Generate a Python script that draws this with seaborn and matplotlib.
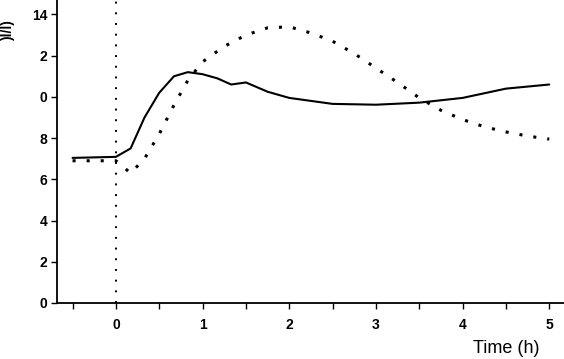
import matplotlib
matplotlib.use("Agg")
import matplotlib.pyplot as plt
import seaborn as sns
import pandas as pd
from matplotlib.ticker import MultipleLocator

sns.set_theme(style="white")
plt.rcParams['font.family'] = ['Liberation Sans', 'DejaVu Sans']

# Solid series
solid_t = [-0.5, 0.0, 0.17, 0.33, 0.5, 0.67, 0.83, 1.0, 1.17, 1.33, 1.5, 1.75, 2.0, 2.5, 3.0, 3.5, 4.0, 4.5, 5.0]
solid_v = [7.04, 7.09, 7.5, 9.0, 10.2, 11.0, 11.2, 11.1, 10.9, 10.6, 10.7, 10.25, 9.95, 9.66, 9.62, 9.72, 9.95, 10.4, 10.6]

# Dotted series
dot_t = [-0.5, 0.0, 0.17, 0.33, 0.5, 0.67, 0.83, 1.0, 1.25, 1.5, 1.75, 2.0, 2.25, 2.5, 2.75, 3.0, 3.25, 3.5, 3.75, 4.0, 4.25, 4.5, 4.75, 5.0]
dot_v = [6.9, 6.9, 6.3, 7.0, 8.2, 9.6, 10.8, 11.7, 12.45, 13.0, 13.35, 13.4, 13.1, 12.7, 12.1, 11.4, 10.7, 9.95, 9.35, 8.9, 8.55, 8.3, 8.1, 7.95]

y_ticks = [0, 2, 4, 6, 8, 10, 12, 14]
y_tick_labels = ["0", "2", "4", "6", "8", "0", "2", "14"]
x_ticks = [0, 1, 2, 3, 4, 5]
x_tick_labels = ["0", "1", "2", "3", "4", "5"]

df_s = pd.DataFrame({"t": solid_t, "v": solid_v})
df_d = pd.DataFrame({"t": dot_t, "v": dot_v})

fig = plt.figure(figsize=(5.64, 3.59), dpi=100)
ax = fig.add_axes([0.101, 0.156, 0.899, 0.844])

sns.lineplot(data=df_s, x="t", y="v", ax=ax, color="black", linewidth=1.5)
sns.lineplot(data=df_d, x="t", y="v", ax=ax, color="black", linewidth=2.2,
             linestyle=(0, (1, 3.6)))
ax.axvline(0, color="black", linewidth=1.4, linestyle=(0, (1, 4.5)))

ax.set_xlim(-0.68, 5.17)
ax.set_ylim(0, 14.7)
ax.set_xticks(x_ticks)
ax.set_xticklabels(x_tick_labels, fontsize=10, fontweight="bold")
ax.xaxis.set_minor_locator(MultipleLocator(0.5))
ax.set_yticks(y_ticks)
ax.set_yticklabels(y_tick_labels, fontsize=10, fontweight="bold")
ax.tick_params(axis="both", which="both", direction="out", length=4, width=1.0,
               color="black", labelcolor="black", bottom=True, left=True)
ax.tick_params(axis="x", which="major", pad=7)
ax.tick_params(axis="y", which="major", pad=3)
ax.set_xlabel("")
ax.set_ylabel("")

for s in ["top", "right"]:
    ax.spines[s].set_visible(False)
for s in ["left", "bottom"]:
    ax.spines[s].set_color("black")
    ax.spines[s].set_linewidth(1.3)

fig.text(0.015, 0.915, ")l/l)", rotation=90, fontsize=10, fontweight="bold",
         ha="center", va="center", color="black")
fig.text(0.897, 0.028, "Time (h)", fontsize=13, ha="center", va="center", color="black")

fig.savefig("out.png", dpi=100)
